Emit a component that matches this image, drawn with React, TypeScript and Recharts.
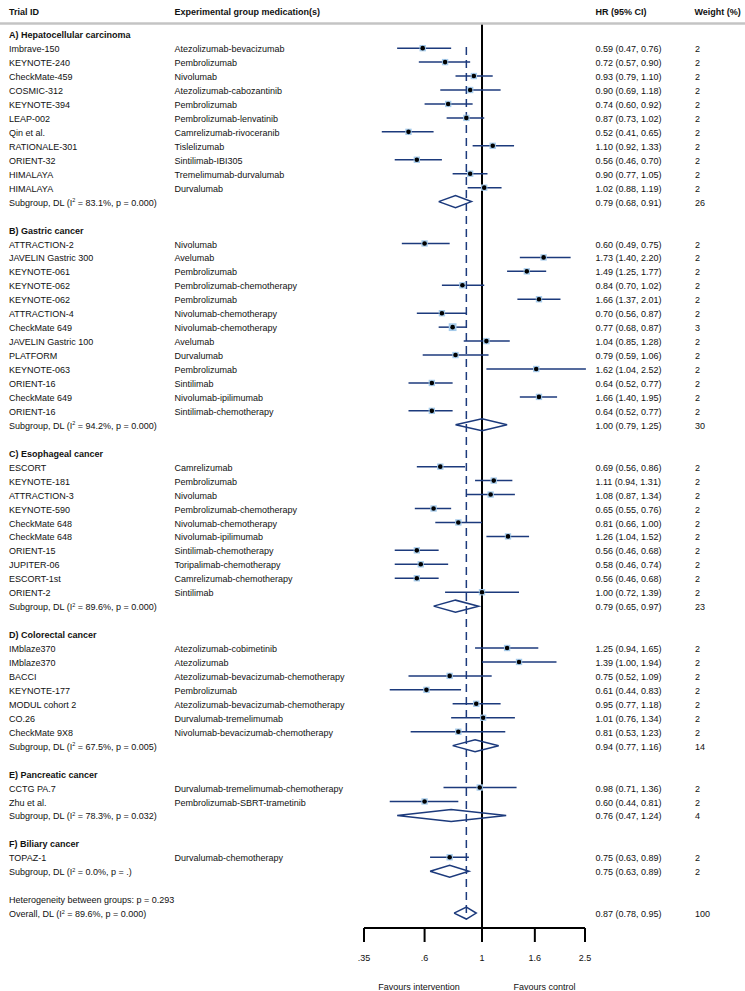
import React from 'react';
import { ComposedChart, Scatter, XAxis, YAxis, ErrorBar, ReferenceLine, Label } from 'recharts';

// [trial, medication, HR, lower, upper, weight]
type Study = [string, string, number, number, number, number];

const hepatocellular: Study[] = [
  ['Imbrave-150', 'Atezolizumab-bevacizumab', 0.59, 0.47, 0.76, 2],
  ['KEYNOTE-240', 'Pembrolizumab', 0.72, 0.57, 0.9, 2],
  ['CheckMate-459', 'Nivolumab', 0.93, 0.79, 1.1, 2],
  ['COSMIC-312', 'Atezolizumab-cabozantinib', 0.9, 0.69, 1.18, 2],
  ['KEYNOTE-394', 'Pembrolizumab', 0.74, 0.6, 0.92, 2],
  ['LEAP-002', 'Pembrolizumab-lenvatinib', 0.87, 0.73, 1.02, 2],
  ['Qin et al.', 'Camrelizumab-rivoceranib', 0.52, 0.41, 0.65, 2],
  ['RATIONALE-301', 'Tislelizumab', 1.1, 0.92, 1.33, 2],
  ['ORIENT-32', 'Sintilimab-IBI305', 0.56, 0.46, 0.7, 2],
  ['HIMALAYA', 'Tremelimumab-durvalumab', 0.9, 0.77, 1.05, 2],
  ['HIMALAYA', 'Durvalumab', 1.02, 0.88, 1.19, 2],
];

const gastric: Study[] = [
  ['ATTRACTION-2', 'Nivolumab', 0.6, 0.49, 0.75, 2],
  ['JAVELIN Gastric 300', 'Avelumab', 1.73, 1.4, 2.2, 2],
  ['KEYNOTE-061', 'Pembrolizumab', 1.49, 1.25, 1.77, 2],
  ['KEYNOTE-062', 'Pembrolizumab-chemotherapy', 0.84, 0.7, 1.02, 2],
  ['KEYNOTE-062', 'Pembrolizumab', 1.66, 1.37, 2.01, 2],
  ['ATTRACTION-4', 'Nivolumab-chemotherapy', 0.7, 0.56, 0.87, 2],
  ['CheckMate 649', 'Nivolumab-chemotherapy', 0.77, 0.68, 0.87, 3],
  ['JAVELIN Gastric 100', 'Avelumab', 1.04, 0.85, 1.28, 2],
  ['PLATFORM', 'Durvalumab', 0.79, 0.59, 1.06, 2],
  ['KEYNOTE-063', 'Pembrolizumab', 1.62, 1.04, 2.52, 2],
  ['ORIENT-16', 'Sintilimab', 0.64, 0.52, 0.77, 2],
  ['CheckMate 649', 'Nivolumab-ipilimumab', 1.66, 1.4, 1.95, 2],
  ['ORIENT-16', 'Sintilimab-chemotherapy', 0.64, 0.52, 0.77, 2],
];

const esophageal: Study[] = [
  ['ESCORT', 'Camrelizumab', 0.69, 0.56, 0.86, 2],
  ['KEYNOTE-181', 'Pembrolizumab', 1.11, 0.94, 1.31, 2],
  ['ATTRACTION-3', 'Nivolumab', 1.08, 0.87, 1.34, 2],
  ['KEYNOTE-590', 'Pembrolizumab-chemotherapy', 0.65, 0.55, 0.76, 2],
  ['CheckMate 648', 'Nivolumab-chemotherapy', 0.81, 0.66, 1.0, 2],
  ['CheckMate 648', 'Nivolumab-ipilimumab', 1.26, 1.04, 1.52, 2],
  ['ORIENT-15', 'Sintilimab-chemotherapy', 0.56, 0.46, 0.68, 2],
  ['JUPITER-06', 'Toripalimab-chemotherapy', 0.58, 0.46, 0.74, 2],
  ['ESCORT-1st', 'Camrelizumab-chemotherapy', 0.56, 0.46, 0.68, 2],
  ['ORIENT-2', 'Sintilimab', 1.0, 0.72, 1.39, 2],
];

const colorectal: Study[] = [
  ['IMblaze370', 'Atezolizumab-cobimetinib', 1.25, 0.94, 1.65, 2],
  ['IMblaze370', 'Atezolizumab', 1.39, 1.0, 1.94, 2],
  ['BACCI', 'Atezolizumab-bevacizumab-chemotherapy', 0.75, 0.52, 1.09, 2],
  ['KEYNOTE-177', 'Pembrolizumab', 0.61, 0.44, 0.83, 2],
  ['MODUL cohort 2', 'Atezolizumab-bevacizumab-chemotherapy', 0.95, 0.77, 1.18, 2],
  ['CO.26', 'Durvalumab-tremelimumab', 1.01, 0.76, 1.34, 2],
  ['CheckMate 9X8', 'Nivolumab-bevacizumab-chemotherapy', 0.81, 0.53, 1.23, 2],
];

const pancreatic: Study[] = [
  ['CCTG PA.7', 'Durvalumab-tremelimumab-chemotherapy', 0.98, 0.71, 1.36, 2],
  ['Zhu et al.', 'Pembrolizumab-SBRT-trametinib', 0.6, 0.44, 0.81, 2],
];

const biliary: Study[] = [
  ['TOPAZ-1', 'Durvalumab-chemotherapy', 0.75, 0.63, 0.89, 2],
];

const sectionTitles = [
  'A) Hepatocellular carcinoma',
  'B) Gastric cancer',
  'C) Esophageal cancer',
  'D) Colorectal cancer',
  'E) Pancreatic cancer',
  'F) Biliary cancer',
];
const sectionStudies = [hepatocellular, gastric, esophageal, colorectal, pancreatic, biliary];

const subgroupI2 = ['83.1%', '94.2%', '89.6%', '67.5%', '78.3%', '0.0%'];
const subgroupP = ['0.000', '0.000', '0.000', '0.005', '0.032', '.'];
const subgroupHR = [0.79, 1.0, 0.79, 0.94, 0.76, 0.75];
const subgroupLo = [0.68, 0.79, 0.65, 0.77, 0.47, 0.63];
const subgroupHi = [0.91, 1.25, 0.97, 1.16, 1.24, 0.89];
const subgroupWeight = [26, 30, 23, 14, 4, 2];

const heterogeneityP = '0.293';
const overall = { i2: '89.6%', p: '0.000', hr: 0.87, lo: 0.78, hi: 0.95, w: 100 };

const xTicks = [0.35, 0.6, 1, 1.6, 2.5];
const xTickLabels = ['.35', '.6', '1', '1.6', '2.5'];

const headers = ['Trial ID', 'Experimental group medication(s)', 'HR (95% CI)', 'Weight (%)'];
const favoursLabels = ['Favours intervention', 'Favours control'];

// ---------- build rows ----------
type Row = {
  kind: 'header' | 'rule' | 'section' | 'study' | 'subgroup' | 'het' | 'overall';
  r: number;
  label?: string;
  med?: string;
  hr?: number;
  lo?: number;
  hi?: number;
  w?: number;
  i2?: string;
  p?: string;
};

const rows: Row[] = [];
rows.push({ kind: 'header', r: -1.67 });
rows.push({ kind: 'rule', r: -0.767 });
let rowIdx = 0;
sectionTitles.forEach((title, si) => {
  rows.push({ kind: 'section', r: rowIdx, label: title });
  rowIdx++;
  sectionStudies[si].forEach(([trial, med, hr, lo, hi, w]) => {
    rows.push({ kind: 'study', r: rowIdx, label: trial, med, hr, lo, hi, w });
    rowIdx++;
  });
  rows.push({
    kind: 'subgroup', r: rowIdx, hr: subgroupHR[si], lo: subgroupLo[si], hi: subgroupHi[si],
    w: subgroupWeight[si], i2: subgroupI2[si], p: subgroupP[si],
  });
  rowIdx += 2;
});
rows.push({ kind: 'het', r: rowIdx, label: `Heterogeneity between groups: p = ${heterogeneityP}` });
rowIdx++;
rows.push({ kind: 'overall', r: rowIdx, ...overall });
const lastRow = rowIdx;

const studyData = rows
  .filter((d) => d.kind === 'study')
  .map((d) => ({ x: d.hr as number, y: d.r, err: [(d.hr as number) - (d.lo as number), (d.hi as number) - (d.hr as number)], w: d.w }));

const DIAMOND_HALF = 0.43;
const diamonds = rows
  .filter((d) => d.kind === 'subgroup' || d.kind === 'overall')
  .map((d) => [
    { x: d.lo as number, y: d.r },
    { x: d.hr as number, y: d.r - DIAMOND_HALF },
    { x: d.hi as number, y: d.r },
    { x: d.hr as number, y: d.r + DIAMOND_HALF },
    { x: d.lo as number, y: d.r },
  ]);

// ---------- styles ----------
const NAVY = '#1c3a7c';
const BOX = '#a6cbeb';
const FONT = "'Liberation Sans', Arial, Helvetica, sans-serif";
const FS = 9;
const TEXT = '#111';
const COL_X = [9, 174.5, 595.5, 695];

const fmtCI = (hr?: number, lo?: number, hi?: number) =>
  `${(hr as number).toFixed(2)} (${(lo as number).toFixed(2)}, ${(hi as number).toFixed(2)})`;

const I2Text = ({ prefix, i2, p }: { prefix: string; i2?: string; p?: string }) => (
  <>
    <tspan>{`${prefix} (I`}</tspan>
    <tspan dy={-3.5} fontSize={5.5}>2</tspan>
    <tspan dy={3.5}>{` = ${i2}, p = ${p})`}</tspan>
  </>
);

const RowTick = (props: any) => {
  const { y, payload } = props;
  const row = rows.find((d) => Math.abs(d.r - payload.value) < 1e-6);
  if (!row) return <g />;
  const base = y + 4.1;
  const t = (x: number, content: React.ReactNode, bold = false, key?: string) => (
    <text key={key} x={x} y={base} fontFamily={FONT} fontSize={FS} fill={TEXT} fontWeight={bold ? 'bold' : 'normal'}>
      {content}
    </text>
  );
  switch (row.kind) {
    case 'header':
      return (
        <g>
          {headers.map((h, i) => t(COL_X[i] + (i === 3 ? -0.5 : 0), h, true, h))}
        </g>
      );
    case 'rule':
      return <line x1={0} x2={745} y1={y} y2={y} stroke="#c4c4c4" strokeWidth={2.5} />;
    case 'section':
      return t(COL_X[0], row.label, true);
    case 'study':
      return (
        <g>
          {t(COL_X[0], row.label, false, 'a')}
          {t(COL_X[1], row.med, false, 'b')}
          {t(COL_X[2], fmtCI(row.hr, row.lo, row.hi), false, 'c')}
          {t(COL_X[3], String(row.w), false, 'd')}
        </g>
      );
    case 'subgroup':
    case 'overall':
      return (
        <g>
          {t(COL_X[0], <I2Text prefix={row.kind === 'overall' ? 'Overall, DL' : 'Subgroup, DL'} i2={row.i2} p={row.p} />, false, 'a')}
          {t(COL_X[2], fmtCI(row.hr, row.lo, row.hi), false, 'c')}
          {t(COL_X[3], String(row.w), false, 'd')}
        </g>
      );
    case 'het':
      return t(COL_X[0], row.label);
    default:
      return <g />;
  }
};

const XTick = (props: any) => {
  const { x, y, payload } = props;
  const i = xTicks.findIndex((v) => Math.abs(v - payload.value) < 1e-9);
  return (
    <text x={x} y={y + 16.5} textAnchor="middle" fontFamily={FONT} fontSize={FS} fill={TEXT}>
      {i >= 0 ? xTickLabels[i] : payload.value}
    </text>
  );
};

const StudyMarker = (props: any) => {
  const { cx, cy, payload } = props;
  const s = 4.5 * Math.sqrt(payload.w);
  return (
    <g>
      <rect x={cx - s / 2} y={cy - s / 2} width={s} height={s} fill={BOX} />
      <circle cx={cx} cy={cy} r={2.3} fill="#000" />
    </g>
  );
};

const FavoursLabel = () => (
  <g>
    <text x={419} y={990} textAnchor="middle" fontFamily={FONT} fontSize={FS} fill={TEXT}>{favoursLabels[0]}</text>
    <text x={544.5} y={990} textAnchor="middle" fontFamily={FONT} fontSize={FS} fill={TEXT}>{favoursLabels[1]}</text>
  </g>
);

const Y_DOMAIN: [number, number] = [-2.4516, 64.0717];

export default function App() {
  return (
    <div style={{ position: 'absolute', left: 0, top: 0, background: '#fff' }}>
      <ComposedChart width={745} height={991} margin={{ top: 0, right: 160, bottom: 0, left: 0 }}>
        <XAxis
          type="number"
          dataKey="x"
          scale="log"
          domain={[0.35, 2.5]}
          ticks={xTicks}
          allowDataOverflow
          interval={0}
          height={63}
          tickSize={14}
          tickLine={{ stroke: '#000', strokeWidth: 2 }}
          axisLine={{ stroke: '#000', strokeWidth: 2 }}
          tick={XTick}
        >
          <Label content={FavoursLabel} />
        </XAxis>
        <YAxis
          type="number"
          dataKey="y"
          domain={Y_DOMAIN}
          reversed
          allowDataOverflow
          width={364}
          ticks={rows.map((d) => d.r)}
          interval={0}
          axisLine={false}
          tickLine={false}
          tick={RowTick}
        />
        <ReferenceLine
          segment={[{ x: 1, y: -0.8 }, { x: 1, y: Y_DOMAIN[1] }]}
          stroke="#000"
          strokeWidth={2}
          ifOverflow="visible"
        />
        <ReferenceLine
          segment={[{ x: overall.hr, y: 0.92 }, { x: overall.hr, y: lastRow + 0.45 }]}
          stroke={NAVY}
          strokeWidth={1.5}
          strokeDasharray="8 5"
          ifOverflow="visible"
        />
        {diamonds.map((d, i) => (
          <Scatter
            key={`dia${i}`}
            data={d}
            line={{ stroke: NAVY, strokeWidth: 1.5 }}
            lineType="joint"
            shape={() => <g />}
            isAnimationActive={false}
          />
        ))}
        <Scatter data={studyData} shape={StudyMarker} isAnimationActive={false}>
          <ErrorBar dataKey="err" direction="x" width={0} stroke={NAVY} strokeWidth={1.5} />
        </Scatter>
      </ComposedChart>
    </div>
  );
}
